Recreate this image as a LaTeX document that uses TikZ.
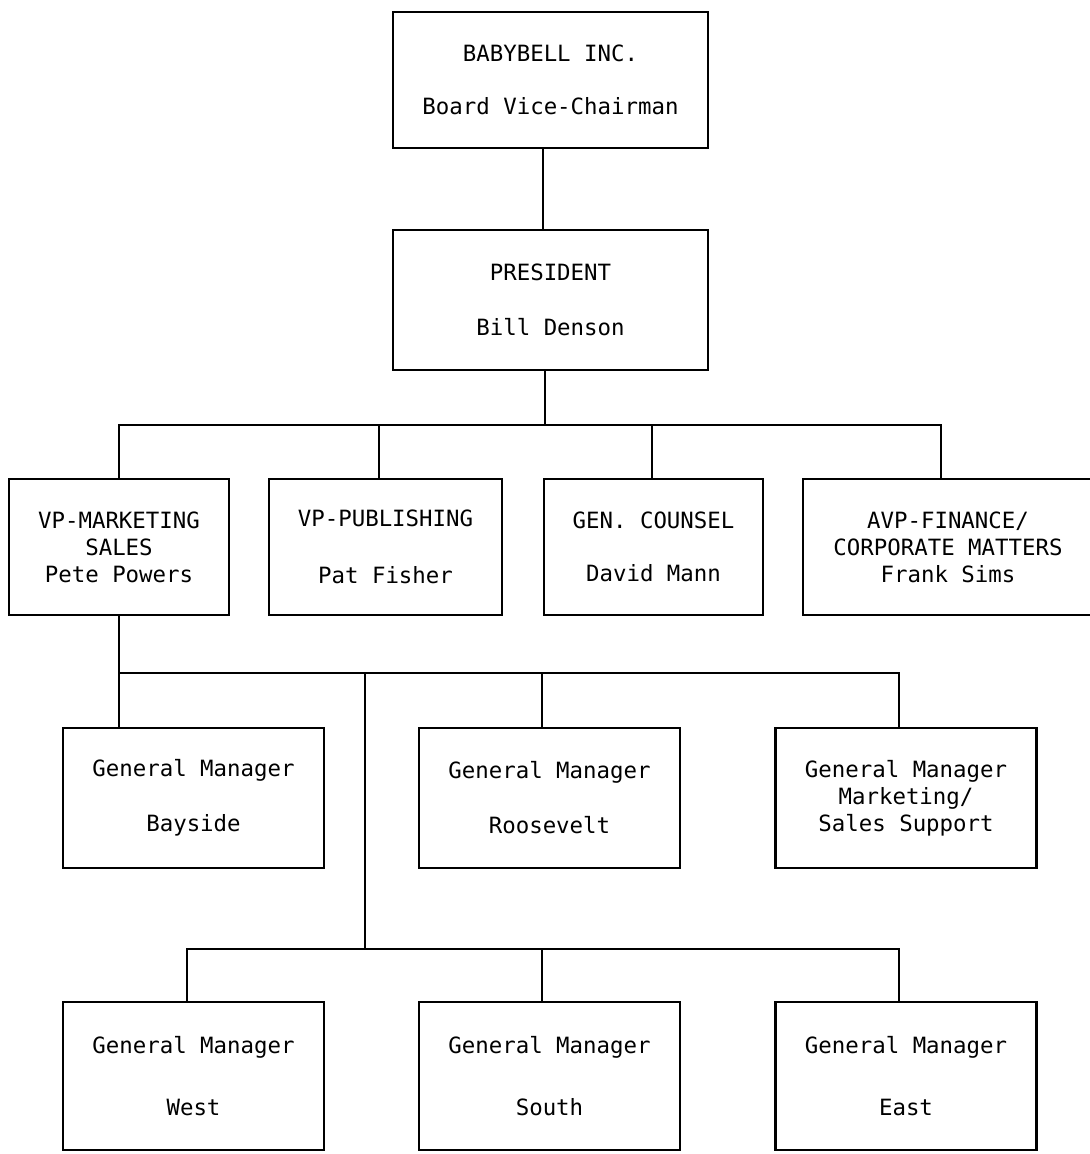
\documentclass[tikz,border=0pt]{standalone}
\usepackage{fontspec}
\setmainfont{DejaVu Sans Mono}

\begin{document}
\begin{tikzpicture}[x=0.5pt, y=-0.5pt, every path/.style={line width=1.4pt},
    orgbox/.style={draw, align=center, inner sep=0pt, font=\fontsize{11.2}{13.5}\selectfont},
    vpbox/.style={orgbox, minimum height=68pt},
    gmbox/.style={orgbox, minimum width=130.5pt, minimum height=70pt}]
  \useasboundingbox (0,0) rectangle (1089,1154);
  \node[orgbox, minimum width=157.5pt, minimum height=68pt] (board) at (550.5,80) {BABYBELL INC.\\[13pt]Board Vice-Chairman};
  \node[orgbox, minimum width=157.5pt, minimum height=70pt] (pres) at (550.5,300) {PRESIDENT\\[14pt]Bill Denson};
  \node[vpbox, minimum width=110pt] (vpm) at (119,547) {VP-MARKETING\\SALES\\Pete Powers};
  \node[vpbox, minimum width=116.5pt] (vpp) at (385.5,547) {VP-PUBLISHING\\[15pt]Pat Fisher};
  \node[vpbox, minimum width=109.5pt] (gc) at (653.5,547) {GEN. COUNSEL\\[13pt]David Mann};
  \node[vpbox, minimum width=145pt] (avp) at (948,547) {AVP-FINANCE/\\CORPORATE MATTERS\\Frank Sims};
  \node[gmbox] (gmb) at (193.5,798) {General Manager\\[14pt]Bayside};
  \node[gmbox] (gmr) at (549.5,798) {General Manager\\[14pt]Roosevelt};
  \node[gmbox] (gmm) at (906,798) {General Manager\\Marketing/\\Sales Support};
  \node[gmbox, minimum height=74pt] (gmw) at (193.5,1076) {General Manager\\[17.5pt]West};
  \node[gmbox, minimum height=74pt] (gms) at (549.5,1076) {General Manager\\[17.5pt]South};
  \node[gmbox, minimum height=74pt] (gme) at (906,1076) {General Manager\\[17.5pt]East};

  \coordinate (c0) at (543,189);
  \draw (board.south -| c0) -- (pres.north -| c0);

  \coordinate (b0) at (545,425);
  \coordinate (b1) at (119,425);
  \coordinate (b2) at (379,425);
  \coordinate (b3) at (652,425);
  \coordinate (b4) at (941,425);
  \draw (pres.south -| b0) -- (b0);
  \draw (b1 |- vpm.north) -- (b1) -- (b4) -- (b4 |- avp.north);
  \foreach \n/\b in {vpp/b2, gc/b3}
    \draw (\b) -- (\b |- \n.north);

  \coordinate (m0) at (365,673);
  \coordinate (m1) at (119,673);
  \coordinate (m2) at (542,673);
  \coordinate (m3) at (899,673);
  \draw (m1 |- vpm.south) -- (m1 |- gmb.north);
  \draw (m1) -- (m3) -- (m3 |- gmm.north);
  \draw (m2) -- (m2 |- gmr.north);

  \coordinate (s0) at (365,949);
  \coordinate (s1) at (187,949);
  \coordinate (s2) at (542,949);
  \coordinate (s3) at (899,949);
  \draw (m0) -- (s0);
  \draw (s1 |- gmw.north) -- (s1) -- (s3) -- (s3 |- gme.north);
  \draw (s2) -- (s2 |- gms.north);
\end{tikzpicture}
\end{document}
